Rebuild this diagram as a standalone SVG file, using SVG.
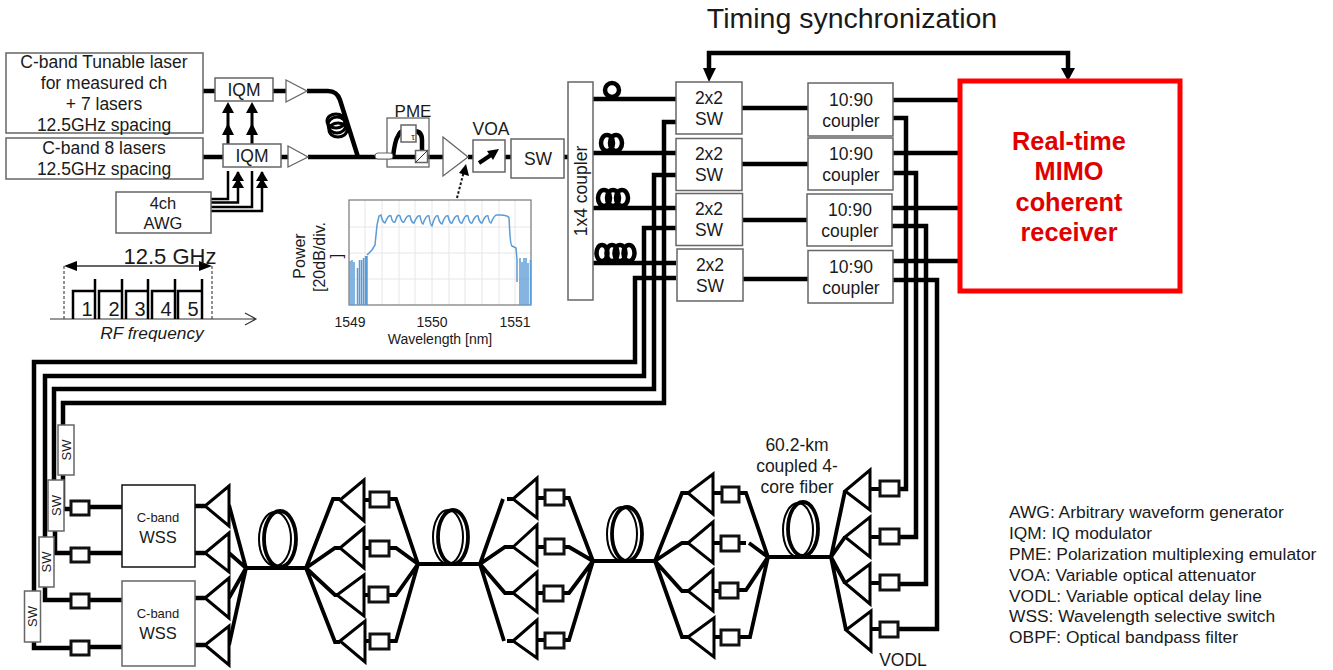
<svg xmlns="http://www.w3.org/2000/svg" width="1333" height="670" viewBox="0 0 1333 670">
<style>
text{font-family:"Liberation Sans",Arial,sans-serif;fill:#1a1a1a;text-anchor:middle}
.b{fill:#fff;stroke:#666;stroke-width:1.5}
.d{fill:#fff;stroke:#111;stroke-width:1.5}
.v{fill:#fff;stroke:#111;stroke-width:3}
.a{fill:#fff;stroke:#666;stroke-width:1.3}
.t{fill:#fff;stroke:#000;stroke-width:3;stroke-linejoin:miter}
.w{fill:none;stroke:#000;stroke-width:4.5}
.m{fill:none;stroke:#000;stroke-width:3}
.n{fill:none;stroke:#000;stroke-width:3.8}
.c{fill:none;stroke:#000;stroke-width:2.5}
.f17{font-size:17.5px}.f16{font-size:16.5px}.f14{font-size:14px}.f13{font-size:13px}
.leg{font-size:17.4px;text-anchor:start}
.g{stroke:#e6e6e6;stroke-width:1;fill:none}
</style>

<g id="connectors">
<!-- transmitter -->
<path class="w" d="M203 91H215M273 91H286M203 157H223M281 157H288"/>
<path class="w" d="M307 91H328Q337 91 340 100L358 157M308 157H443M468 157H473M505 157H511M564 157H568"/>
<path class="w" d="M393 157Q395 140 398 136Q400 131 404 131M414 131Q422 131 422 140V150"/>
<path class="m" d="M228 144V106M252 144V106"/>
<path d="M228 123L222 135H234zM252 123L246 135H258zM228 102L222 113H234zM252 102L246 113H258z" fill="#000"/>
<path class="c" d="M211 199H228V171M211 202.500H238V172M211 207H252V171M211 211H262V172"/>
<path d="M238 171L232 181H244zM238 178L232 188H244zM262 171L256 181H268zM262 178L256 188H268z" fill="#000"/>
<ellipse class="m" cx="336" cy="121" rx="9" ry="7"/><ellipse class="m" cx="337" cy="125" rx="9" ry="8"/><ellipse class="m" cx="338" cy="130" rx="9" ry="7"/>
<path d="M457 198L463.500 173" fill="none" stroke="#111" stroke-width="2" stroke-dasharray="2.500 2"/>
<path d="M466 164L469 176L459 173z" fill="#000"/>
<!-- splitter to 2x2 -->
<path class="w" d="M593 99H676M593 153H676M593 208H676M593 263H676"/>
<path class="w" d="M742 108H808M742 164H808M742 220H807M742 279H808"/>
<path class="w" d="M893 100H960M893 153H960M892 208H960M893 261H960"/>
<circle class="w" cx="612" cy="90" r="7"/>
<g class="w"><ellipse cx="607" cy="143" rx="6" ry="8"/><ellipse cx="616" cy="143" rx="6" ry="8"/></g>
<g class="w"><ellipse cx="604" cy="198" rx="6" ry="8"/><ellipse cx="613" cy="198" rx="6" ry="8"/><ellipse cx="622" cy="198" rx="6" ry="8"/></g>
<g class="w"><ellipse cx="602" cy="253" rx="5.500" ry="8"/><ellipse cx="612" cy="253" rx="5.500" ry="8"/><ellipse cx="620" cy="253" rx="5.500" ry="8"/><ellipse cx="629" cy="253" rx="5.500" ry="8"/></g>
<!-- feedback -->
<path class="w" d="M676 122H664V403H63V425"/>
<path class="w" d="M676 175H654V389H54V480"/>
<path class="w" d="M676 228H644V376H45V537"/>
<path class="w" d="M676 278H635V362H34V591"/>
<path class="w" d="M893 118H906V489H899M893 173H916V537H899M892 226H926V584H899M893 280H937V629H899"/>
<!-- timing -->
<path class="w" d="M1068 70V53H709V70"/>
<path d="M703 68H716L709 82zM1061 68H1075L1068 81z" fill="#000"/>
<!-- SW to VODL -->
<path class="w" d="M63 475V509H70M55 531V553H71M45 587V600H70M34 642V648H71"/>
<path class="w" d="M89 507H122M89 553H122M89 600H122M89 647H122M195 506H205M195 553H205M195 598H205M195 645H205"/>
<!-- spans -->
<path class="n" d="M229 505L246 568M229 553L246 568M229 598L246 568M229 645L246 568M246 568H306"/>
<path class="n" d="M306 568L333 499H340M306 568L335 548H340M306 568L335 595H340M306 568L335 642H340M364 500H370M364 548H370M364 595H370M364 641H370M389 499H396L418 564M389 548H396L418 564M389 595H396L418 564M389 641H396L418 564M418 564H480"/>
<path class="n" d="M480 564L503 499M480 564L505 547H513M480 564L505 593H513M480 564L504 641M507 499H513M507 641H513M537 498H545M537 547H545M537 593H545M537 640H545M564 498H569L593 561M564 547H569L593 561M564 593H569L593 561M564 640H569L593 561M593 561H655"/>
<path class="n" d="M655 561L682 493H688M655 561L682 543H688M655 561L682 591H688M655 561L682 637H688M713 493H722M713 543H722M713 591H722M713 637H722M739 493H746L768 557M739 543H746M749 543L768 557M739 590H746L768 557M739 637H750L768 557M768 557H831"/>
<path class="n" d="M831 557L845 491M831 557L845 537M831 557L845 583M831 557L846 630M870 489H880M870 537H880M870 583H880M870 629H880"/>
<g class="n"><ellipse cx="280" cy="539" rx="16" ry="28"/><ellipse cx="275" cy="539" rx="16" ry="27" stroke-width="2"/>
<ellipse cx="453" cy="537" rx="15" ry="27"/><ellipse cx="448" cy="537" rx="15" ry="27" stroke-width="2"/>
<ellipse cx="627" cy="534" rx="15" ry="27"/><ellipse cx="622" cy="534" rx="15" ry="27" stroke-width="2"/>
<ellipse cx="803" cy="529" rx="15" ry="27"/><ellipse cx="798" cy="530" rx="15" ry="27" stroke-width="2"/></g>
</g>

<g id="laser1"><rect class="b" x="6" y="53" width="197" height="80"/><text class="f17" x="104" y="68">C-band Tunable laser</text><text class="f17" x="104" y="89">for measured ch</text><text class="f17" x="104" y="110">+ 7 lasers</text><text class="f17" x="104" y="131">12.5GHz spacing</text></g>
<g id="laser2"><rect class="b" x="6" y="138" width="197" height="41"/><text class="f17" x="104" y="154">C-band 8 lasers</text><text class="f17" x="104" y="175">12.5GHz spacing</text></g>
<g id="iqm1"><rect class="b" x="215" y="78" width="58" height="23"/><text class="f17" x="244" y="96">IQM</text></g>
<g id="iqm2"><rect class="b" x="223" y="144" width="58" height="23"/><text class="f17" x="252" y="162">IQM</text></g>
<g id="amp1"><path class="a" d="M286 80L307 91L286 102z"/></g>
<g id="amp2"><path class="a" d="M288 146L308 157L288 167z"/></g>
<g id="awg"><rect class="b" x="116" y="192" width="95" height="41"/><text class="f16" x="163" y="209">4ch</text><text class="f16" x="163" y="229">AWG</text></g>

<g id="pme"><rect x="387" y="118" width="42" height="49" fill="none" stroke="#666" stroke-width="1.300"/>
<rect x="375" y="153" width="18" height="6" rx="3" fill="#fff" stroke="#666"/>
<rect class="b" x="401" y="125" width="15" height="17"/><text x="413" y="140" font-size="9">τ</text>
<rect class="b" x="415.500" y="150.500" width="12" height="12"/><path d="M415.500 162.500L427.500 150.500" stroke="#333" fill="none"/>
<text x="413" y="117" font-size="17">PME</text></g>
<g id="amp3"><path class="a" d="M443 137L468 157L443 176z"/></g>
<g id="voa"><rect class="b" x="473" y="140" width="32" height="32"/><path d="M479 163L491 155" stroke="#000" stroke-width="4"/><path d="M499 149L493 160L487 151z" fill="#000"/><text class="f17" x="491" y="135">VOA</text></g>
<g id="sw-tx"><rect class="b" x="511" y="139" width="53" height="39"/><text class="f17" x="538" y="165">SW</text></g>
<g id="coupler1x4"><rect class="b" x="568" y="82" width="25" height="218"/><text class="f17" transform="translate(587 191) rotate(-90)">1x4 coupler</text></g>

<g id="sw2x2-1"><rect class="b" x="676" y="82" width="66" height="52"/><text class="f17" x="709" y="104">2x2</text><text class="f17" x="709" y="125">SW</text></g>
<g id="sw2x2-2"><rect class="b" x="676" y="138.500" width="66" height="52"/><text class="f17" x="709" y="160">2x2</text><text class="f17" x="709" y="181">SW</text></g>
<g id="sw2x2-3"><rect class="b" x="676" y="193.500" width="66.500" height="52"/><text class="f17" x="709" y="215">2x2</text><text class="f17" x="709" y="236">SW</text></g>
<g id="sw2x2-4"><rect class="b" x="677" y="249" width="66" height="52"/><text class="f17" x="710" y="271">2x2</text><text class="f17" x="710" y="292">SW</text></g>
<g id="coupler-1"><rect class="b" x="808" y="83" width="85" height="53"/><text class="f17" x="851" y="106">10:90</text><text class="f17" x="851" y="127">coupler</text></g>
<g id="coupler-2"><rect class="b" x="808" y="138" width="85" height="52"/><text class="f17" x="851" y="160">10:90</text><text class="f17" x="851" y="181">coupler</text></g>
<g id="coupler-3"><rect class="b" x="807" y="194" width="85" height="52"/><text class="f17" x="850" y="216">10:90</text><text class="f17" x="850" y="237">coupler</text></g>
<g id="coupler-4"><rect class="b" x="808" y="250.500" width="85" height="52.500"/><text class="f17" x="851" y="273">10:90</text><text class="f17" x="851" y="294">coupler</text></g>
<g id="receiver"><rect x="960" y="81" width="220" height="210" fill="#fff" stroke="#f00" stroke-width="5"/>
<g font-weight="bold" font-size="25.300"><text x="1069" y="150" style="fill:#e00000">Real-time</text><text x="1069" y="180" style="fill:#e00000">MIMO</text><text x="1069" y="211" style="fill:#e00000">coherent</text><text x="1069" y="241" style="fill:#e00000">receiver</text></g></g>
<g id="timing"><text x="852" y="28" font-size="28.500">Timing synchronization</text></g>

<g id="rf-inset">
<path d="M75 266H201" stroke="#333" stroke-width="1.300" fill="none"/>
<path d="M64 266L77 261V271zM212 266L199 261V271z" fill="#000"/>
<path d="M64 266V319M212 266V319" stroke="#222" stroke-dasharray="3 2" fill="none"/>
<path d="M50 319H256M245 313L256 319L245 325" stroke="#333" stroke-width="1.100" fill="none"/>
<path class="c" d="M73 319V291H95M95 319V279M99 319V291H122M122 319V279M126 319V291H148M148 319V279M152 319V291H175M175 319V279M178 319V291H202M202 319V279"/>
<text x="170" y="264" font-size="22">12.5 GHz</text>
<text x="87" y="316" font-size="20">1</text><text x="114" y="316" font-size="20">2</text><text x="140" y="316" font-size="20">3</text><text x="166" y="316" font-size="20">4</text><text x="193" y="316" font-size="20">5</text>
<text x="152" y="339" font-size="17.300" font-style="italic">RF frequency</text>
</g>

<g id="spectrum">
<rect x="349" y="200" width="182" height="105" fill="#fff"/>
<path class="g" d="M365 200V305M382 200V305M399 200V305M415 200V305M432 200V305M449 200V305M465 200V305M482 200V305M499 200V305M515 200V305M349 227H531M349 253H531M349 279H531"/>
<rect x="349" y="200" width="182" height="105" fill="none" stroke="#777" stroke-width="1.200"/>
<path fill="none" stroke="#5b9bd5" stroke-width="1.500" d="M350 305V261M352 305V260M354 305V262M357.500 305V268M359.500 305V260M361.500 305V260M363.500 305V258M365.500 305V256M367 305V256"/>
<path fill="none" stroke="#5b9bd5" stroke-width="1.500" d="M367 255L372 250L375 245L377 225L379 216L381 215C382 221 384 223 385 223C387 218 389 214.500 391 216C392 222 394 223 395 222C397 216 398 214 400 216C401 221 403 223 404 222C406 217 408 215 410 216C411 221 413 223 414 223C416 218 418 215 420 216C421 221 422 224 423 224C425 218 427 215 429 216C430 223 431 226 432 226C434 218 436 215 438 216C439 222 441 224 442 224C444 218 446 215 448 216C449 221 451 224 452 223C454 218 456 215 458 216C459 222 461 224 462 223C464 218 466 214.500 468 216C469 222 471 224 472 223C474 218 476 215 478 216C479 221 481 223 482 223C484 218 486 215 488 216C489 222 490 223 491 223C493 218 495 214.500 497 215C499 215 508 214 509 218C510 235 510 245 512 246L516 248L517 260V282"/>
<path fill="none" stroke="#5b9bd5" stroke-width="1.500" d="M520 305V258M522 305V262M524 305V258M526 305V258M528 305V263M530.500 305V260"/>
<text font-size="16" transform="translate(305 256) rotate(-90)">Power</text>
<text font-size="16" transform="translate(325 257) rotate(-90)">[20dB/div.</text>
<text font-size="16" transform="translate(342 256) rotate(-90)">]</text>
<text class="f14" x="350" y="327">1549</text><text class="f14" x="432" y="327">1550</text><text class="f14" x="515" y="327">1551</text>
<text class="f14" x="440" y="344">Wavelength [nm]</text>
</g>

<g id="sw-a"><rect class="b" x="58" y="425" width="16" height="50"/><text class="f13" transform="translate(71 450) rotate(-90)">SW</text></g>
<g id="sw-b"><rect class="b" x="48" y="480" width="16" height="51"/><text class="f13" transform="translate(61 505.500) rotate(-90)">SW</text></g>
<g id="sw-c"><rect class="b" x="39" y="537" width="15" height="50"/><text class="f13" transform="translate(51 562) rotate(-90)">SW</text></g>
<g id="sw-d"><rect class="b" x="24.500" y="591" width="16" height="51"/><text class="f13" transform="translate(37 616.500) rotate(-90)">SW</text></g>
<g id="wss1"><rect class="d" x="122" y="485" width="73" height="82"/><text class="f13" x="158" y="522">C-band</text><text class="f16" x="158" y="543">WSS</text></g>
<g id="wss2"><rect class="b" x="122" y="581" width="73" height="85"/><text class="f13" x="158" y="618">C-band</text><text class="f16" x="158" y="639">WSS</text></g>

<g id="vodl-group-0"><rect class="v" x="71" y="501" width="18" height="14"/><rect class="v" x="71" y="548" width="18" height="14"/><rect class="v" x="71" y="594" width="18" height="14"/><rect class="v" x="71" y="641" width="18" height="14"/>
<path class="t" d="M205 506L229 486V526zM205 553L229 533V572zM205 598L229 578V618zM205 645L229 626V665z"/></g>
<g id="span-1"><path class="t" d="M340 500L364 480V521zM340 548L364 528V568zM337 595L364 575V616zM340 641L365 621V662z"/>
<rect class="v" x="370" y="492" width="19" height="15"/><rect class="v" x="370" y="541" width="19" height="15"/><rect class="v" x="369" y="587" width="19" height="15"/><rect class="v" x="370" y="634" width="19" height="15"/></g>
<g id="span-2"><path class="t" d="M513 499L537 478V518zM513 547L537 525V565zM513 593L537 572V612zM513 641L537 620V658z"/>
<rect class="v" x="545" y="490" width="19" height="15"/><rect class="v" x="545" y="539" width="19" height="15"/><rect class="v" x="544" y="586" width="19" height="15"/><rect class="v" x="545" y="633" width="19" height="15"/></g>
<g id="span-3"><path class="t" d="M688 493L713 474V514zM688 543L713 522V563zM688 591L713 570V611zM688 637L714 618V657z"/>
<rect class="v" x="722" y="487" width="17" height="15"/><rect class="v" x="721" y="536" width="18" height="15"/><rect class="v" x="720" y="583" width="18" height="15"/><rect class="v" x="721" y="630" width="18" height="15"/></g>
<g id="span-4"><path class="t" d="M845 491L870 470V510zM845 537L870 517V557zM845 583L870 564V604zM846 630L871 611V651z"/>
<rect class="v" x="880" y="481" width="19" height="15"/><rect class="v" x="880" y="529" width="19" height="15"/><rect class="v" x="880" y="575" width="19" height="15"/><rect class="v" x="880" y="622" width="18" height="15"/></g>

<g id="labels"><text class="f17" x="797" y="451">60.2-km</text><text class="f17" x="797" y="472">coupled 4-</text><text class="f17" x="797" y="493">core fiber</text>
<text class="f17" x="903" y="666">VODL</text></g>
<g id="legend">
<text class="leg" x="1009" y="518">AWG: Arbitrary waveform generator</text>
<text class="leg" x="1009" y="539">IQM: IQ modulator</text>
<text class="leg" x="1009" y="560">PME: Polarization multiplexing emulator</text>
<text class="leg" x="1009" y="581">VOA: Variable optical attenuator</text>
<text class="leg" x="1009" y="602">VODL: Variable optical delay line</text>
<text class="leg" x="1009" y="622">WSS: Wavelength selective switch</text>
<text class="leg" x="1009" y="643">OBPF: Optical bandpass filter</text>
</g>
</svg>
